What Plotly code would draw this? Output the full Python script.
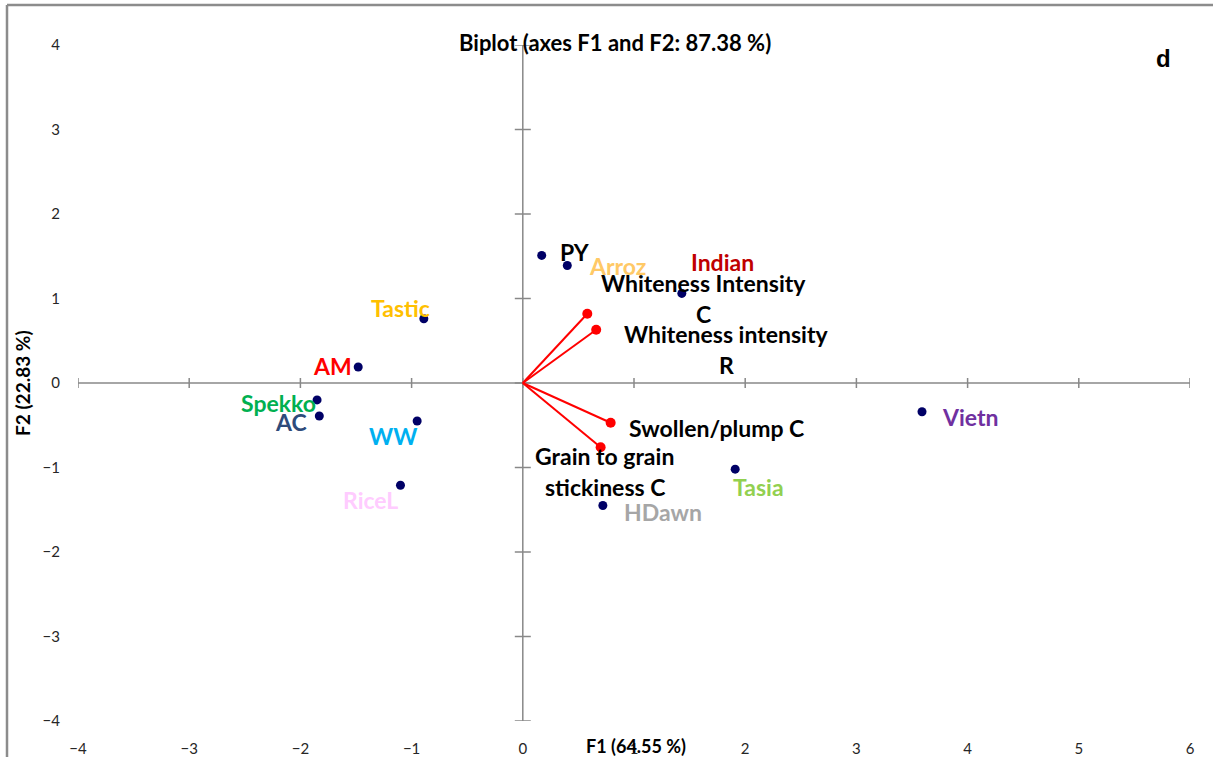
import plotly.graph_objects as go

# ---- data ----
obs_names = ["PY", "Arroz", "Indian", "Tastic", "AM", "Spekko", "AC", "WW", "RiceL", "HDawn", "Tasia", "Vietn"]
obs_f1 = [0.17, 0.40, 1.43, -0.89, -1.48, -1.85, -1.83, -0.95, -1.10, 0.72, 1.91, 3.59]
obs_f2 = [1.51, 1.39, 1.06, 0.76, 0.19, -0.20, -0.39, -0.45, -1.21, -1.45, -1.02, -0.34]

var_names = ["Whiteness Intensity<br>C", "Whiteness intensity<br>R", "Swollen/plump C", "Grain to grain<br>stickiness C"]
var_f1 = [0.58, 0.66, 0.79, 0.70]
var_f2 = [0.82, 0.63, -0.47, -0.76]

x_ticks = [-4, -3, -2, -1, 0, 1, 2, 3, 4, 5, 6]
y_ticks = [-4, -3, -2, -1, 0, 1, 2, 3, 4]

# ---- styles ----
obs_colors = ["#000000", "#FFC966", "#C00000", "#FFC000", "#FF0000", "#00B050",
              "#2E4B7A", "#00B0F0", "#FFCCFF", "#A6A6A6", "#92D050", "#7030A0"]
obs_shift = [(33, 3), (50, 0), (41, 31), (-23, 11), (-26, 1), (-39, -3), (-28, -6),
             (-24, -15), (-30, -15), (60, -6), (23, -18), (48, -5)]
var_shift = [(116, 15), (130, -20), (106, -5), (4, -24)]

FONT = "Lato"
LABEL_SIZE = 23
W, H = 1213, 757
ML, MR, MT, MB = 78, 23, 45, 36
PW, PH = W - ML - MR, H - MT - MB

fig = go.Figure()

# axis lines through origin
axis_col = "#888888"
shapes = [
    dict(type="line", xref="x", yref="y", x0=x_ticks[0], x1=x_ticks[-1], y0=0, y1=0,
         line=dict(color=axis_col, width=1.5), layer="below"),
    dict(type="line", xref="x", yref="y", x0=0, x1=0, y0=y_ticks[0], y1=y_ticks[-1],
         line=dict(color=axis_col, width=1.5), layer="below"),
]
for t in x_ticks:
    shapes.append(dict(type="line", xref="x", yref="y", ysizemode="pixel", yanchor=0,
                       x0=t, x1=t, y0=-5, y1=5, line=dict(color=axis_col, width=1.5), layer="below"))
for t in y_ticks:
    shapes.append(dict(type="line", xref="x", yref="y", xsizemode="pixel", xanchor=0,
                       y0=t, y1=t, x0=-8, x1=8, line=dict(color=axis_col, width=1.5), layer="below"))
# outer frame (left and top)
fx = (7 - ML) / PW
fy = (H - MB - 5) / PH
shapes.append(dict(type="line", xref="paper", yref="paper", x0=fx, x1=fx, y0=fy, y1=-MB / PH - 0.01,
                   line=dict(color="#8C8C8C", width=2.5)))
shapes.append(dict(type="line", xref="paper", yref="paper", x0=fx, x1=(W - ML + 5) / PW, y0=fy, y1=fy,
                   line=dict(color="#8C8C8C", width=2.5)))

# variable vectors
for vx, vy in zip(var_f1, var_f2):
    fig.add_trace(go.Scatter(x=[0, vx], y=[0, vy], mode="lines", line=dict(color="#FF0000", width=2),
                             hoverinfo="skip", showlegend=False))
fig.add_trace(go.Scatter(x=var_f1, y=var_f2, mode="markers", marker=dict(color="#FF0000", size=10),
                         showlegend=False, text=var_names))

# observations
fig.add_trace(go.Scatter(x=obs_f1, y=obs_f2, mode="markers", marker=dict(color="#000066", size=9),
                         showlegend=False, text=obs_names))

annotations = []
for n, x, y, c, (dx, dy) in zip(obs_names, obs_f1, obs_f2, obs_colors, obs_shift):
    annotations.append(dict(x=x, y=y, xref="x", yref="y", text="<b>" + n + "</b>", showarrow=False,
                            xshift=dx, yshift=dy, font=dict(family=FONT, size=LABEL_SIZE, color=c)))
for n, x, y, (dx, dy) in zip(var_names, var_f1, var_f2, var_shift):
    lines = n.split("<br>")
    k = len(lines)
    for i, ln in enumerate(lines):
        off = (k - 1) / 2 * 31 - i * 31
        annotations.append(dict(x=x, y=y, xref="x", yref="y", text="<b>" + ln + "</b>", showarrow=False,
                                xshift=dx, yshift=dy + off,
                                font=dict(family=FONT, size=LABEL_SIZE, color="#000000")))

# title, panel letter, axis titles
annotations.append(dict(xref="paper", yref="paper", x=(615 - ML) / PW, y=(H - MB - 42) / PH,
                        text="<b>Biplot (axes F1 and F2: 87.38 %)</b>", showarrow=False,
                        font=dict(family=FONT, size=22, color="#000000"), yanchor="middle"))
annotations.append(dict(xref="paper", yref="paper", x=(1163 - ML) / PW, y=(H - MB - 58) / PH,
                        text="<b>d</b>", showarrow=False,
                        font=dict(family="Liberation Sans", size=24, color="#000000"),
                        xanchor="center", yanchor="middle"))
annotations.append(dict(xref="paper", yref="paper", x=(636 - ML) / PW, y=-(746 - (H - MB)) / PH,
                        text="<b>F1 (64.55 %)</b>", showarrow=False,
                        font=dict(family=FONT, size=18, color="#000000"), yanchor="middle"))
annotations.append(dict(xref="paper", yref="paper", x=-(ML - 22) / PW, y=0.5, textangle=-90,
                        text="<b>F2 (22.83 %)</b>", showarrow=False,
                        font=dict(family=FONT, size=19, color="#000000"), xanchor="center", yanchor="middle"))

fig.update_layout(
    width=W, height=H,
    margin=dict(l=ML, r=MR, t=MT, b=MB, pad=0, autoexpand=False),
    paper_bgcolor="white", plot_bgcolor="white",
    shapes=shapes, annotations=annotations,
    xaxis=dict(range=[x_ticks[0], x_ticks[-1]], tickvals=x_ticks, showgrid=False, zeroline=False,
               showline=False, ticks="", ticklabelstandoff=17, automargin=False,
               tickfont=dict(family=FONT, size=15, color="#262626")),
    yaxis=dict(range=[y_ticks[0], y_ticks[-1]], tickvals=y_ticks, showgrid=False, zeroline=False,
               showline=False, ticks="", ticklabelstandoff=17, automargin=False,
               tickfont=dict(family=FONT, size=15, color="#262626")),
    font=dict(family=FONT),
)

fig.write_html("out.html")
